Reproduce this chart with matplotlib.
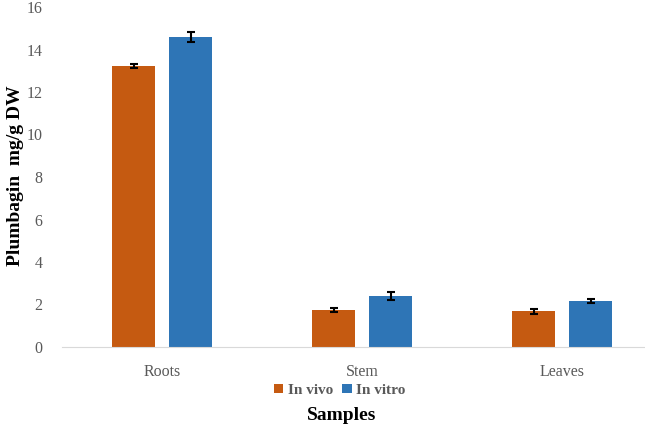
import numpy as np
import matplotlib.pyplot as plt

plt.rcParams["font.family"] = ["Liberation Serif", "DejaVu Serif"]

samples = ["Roots", "Stem", "Leaves"]
invivo = [13.22, 1.74, 1.69]
invivo_err = [0.1, 0.1, 0.12]
invitro = [14.59, 2.40, 2.16]
invitro_err = [0.25, 0.2, 0.1]

fig = plt.figure(figsize=(6.45, 4.28), dpi=100)
ax = fig.add_axes([62 / 645, 81 / 428, (645 - 62) / 645, 340 / 428])

x = np.arange(len(samples))
w = 0.215
off = 0.1425
ax.bar(x - off, invivo, w, yerr=invivo_err, color="#C55A11", label="In vivo",
       error_kw=dict(ecolor="black", capsize=3, elinewidth=1.5, capthick=1.5))
ax.bar(x + off, invitro, w, yerr=invitro_err, color="#2E75B6", label="In vitro",
       error_kw=dict(ecolor="black", capsize=3, elinewidth=1.5, capthick=1.5))

ax.set_xlim(-0.5, 2.415)
ax.set_ylim(0, 16)
ax.set_yticks(range(0, 17, 2))
ax.set_xticks(x)
ax.set_xticklabels(samples)
ax.tick_params(axis="both", length=0, labelsize=11.5, labelcolor="#595959")
ax.tick_params(axis="x", pad=12)
ax.tick_params(axis="y", pad=14)
for s in ["top", "right", "left"]:
    ax.spines[s].set_visible(False)
ax.spines["bottom"].set_color("#d9d9d9")

fig.text(0.024, 0.59, "Plumbagin  mg/g DW", rotation=90, ha="center", va="center",
         fontsize=14, fontweight="bold")
fig.text(0.53, 0.018, "Samples", ha="center", fontsize=14, fontweight="bold")

leg = fig.legend(loc="center", bbox_to_anchor=(0.527, 0.088), ncol=2, frameon=False,
                 handlelength=0.6, handleheight=0.6, handletextpad=0.3, columnspacing=0.6,
                 prop={"size": 11, "weight": "bold"})
for t in leg.get_texts():
    t.set_color("#595959")

fig.savefig("out.png", dpi=100)
